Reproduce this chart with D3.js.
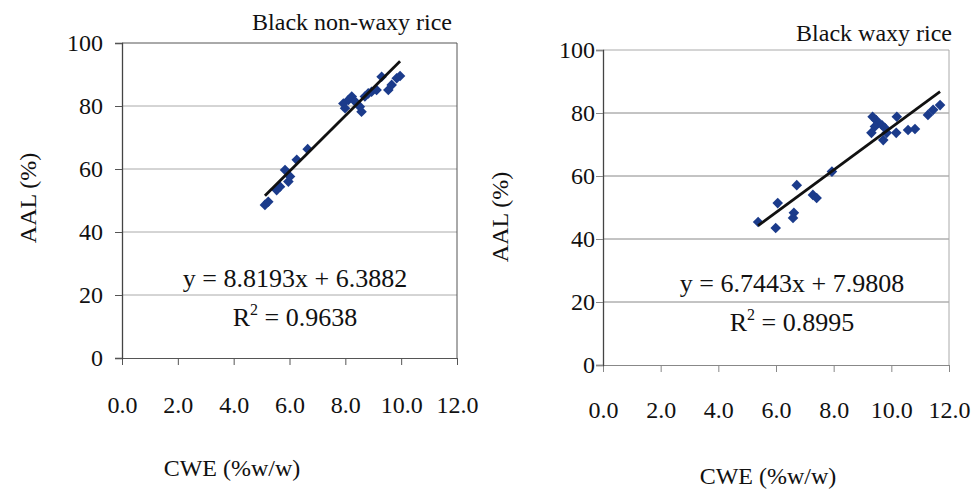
<!DOCTYPE html>
<html>
<head>
<meta charset="utf-8">
<script src="https://cdn.jsdelivr.net/npm/d3@7"></script>
<style>
  body { margin: 0; background: #fff; }
  svg text { font-family: "Liberation Serif", "Times New Roman", serif !important; fill: #111; }
</style>
</head>
<body>
<div id="chart"></div>
<script>
// Black non-waxy rice
const nonWaxyCWE = [5.12, 5.24, 5.54, 5.66, 5.84, 5.96, 6.02, 6.26, 6.65,
    7.93, 7.99, 8.11, 8.23, 8.35, 8.52, 8.58, 8.70, 8.82, 8.94, 9.12, 9.30, 9.54, 9.66, 9.84, 9.96];
const nonWaxyAAL = [48.6, 49.6, 53.3, 54.4, 59.7, 56.0, 57.6, 62.9, 66.3,
    80.8, 79.3, 81.9, 83.0, 81.4, 79.8, 78.2, 83.0, 84.0, 84.5, 85.1, 89.3, 85.1, 86.7, 88.8, 89.5];
const nonWaxyFit = [8.8193, 6.3882];   // slope, intercept
const nonWaxyR2 = "0.9638";

// Black waxy rice
const waxyCWE = [5.38, 5.99, 6.06, 6.62, 6.59, 6.72, 7.28, 7.41, 7.94,
    9.35, 9.47, 9.54, 9.67, 9.78, 9.43, 9.31, 9.84, 9.72, 10.19, 10.17, 10.58, 10.82, 11.27, 11.45, 11.69];
const waxyAAL = [45.4, 43.5, 51.4, 48.3, 46.7, 57.1, 54.0, 53.0, 61.4,
    78.8, 77.8, 76.8, 76.2, 75.2, 75.7, 73.7, 73.7, 71.4, 78.8, 73.7, 74.6, 74.9, 79.4, 81.0, 82.5];
const waxyFit = [6.7443, 7.9808];
const waxyR2 = "0.8995";

const xTicks = [0, 2, 4, 6, 8, 10, 12];
const yTicks = [0, 20, 40, 60, 80, 100];
const yTitle = "AAL (%)";
const xTitle = "CWE (%w/w)";

const serif = "'Liberation Serif', 'Times New Roman', serif";

const svg = d3.select("#chart").append("svg")
    .attr("width", 979)
    .attr("height", 492);

function drawPanel(p) {
    const data = p.xs.map((x, i) => ({ x: x, y: p.ys[i] }));
    const xScale = d3.scaleLinear().domain([0, 12]).range([p.left, p.right]);
    const yScale = d3.scaleLinear().domain([0, 100]).range([p.bottom, p.top]);
    const g = svg.append("g");

    // gridlines
    g.selectAll(".grid")
        .data(yTicks.filter(d => d > 0 && d < 100))
        .enter().append("line")
        .attr("x1", p.left)
        .attr("x2", p.right)
        .attr("y1", d => yScale(d))
        .attr("y2", d => yScale(d))
        .attr("stroke", p.gridColor)
        .attr("stroke-width", 1);

    // plot frame
    g.append("line").attr("x1", p.left).attr("x2", p.right)
        .attr("y1", p.top).attr("y2", p.top).attr("stroke", p.frameColor);
    g.append("line").attr("x1", p.right).attr("x2", p.right)
        .attr("y1", p.top).attr("y2", p.bottom).attr("stroke", p.frameColor);

    const xAxis = g.append("g")
        .attr("transform", `translate(0,${p.bottom})`)
        .call(d3.axisBottom(xScale).tickValues(xTicks).tickSize(7).tickFormat(d3.format(".1f")));
    xAxis.attr("font-family", serif);
    xAxis.select(".domain").attr("stroke", p.axisColor);
    xAxis.selectAll(".tick line").attr("stroke", p.axisColor);
    xAxis.selectAll(".tick text")
        .attr("y", p.xLabelDy)
        .style("font-size", "24px")
        .style("font-family", serif)
        .attr("fill", "#111");

    const yAxis = g.append("g")
        .attr("transform", `translate(${p.left},0)`)
        .call(d3.axisLeft(yScale).tickValues(yTicks).tickSize(7));
    yAxis.attr("font-family", serif);
    yAxis.select(".domain").attr("stroke", "#444").attr("stroke-width", 1.3);
    yAxis.selectAll(".tick line").attr("stroke", p.axisColor);
    yAxis.selectAll(".tick text")
        .attr("x", -p.yLabelGap)
        .style("font-size", "24px")
        .style("font-family", serif)
        .attr("fill", "#111");

    // points
    g.selectAll(".pt")
        .data(data)
        .enter().append("path")
        .attr("class", "pt")
        .attr("d", d3.symbol().type(d3.symbolSquare).size(56))
        .attr("transform", d => `translate(${xScale(d.x)},${yScale(d.y)}) rotate(45)`)
        .attr("fill", "#1b3b8b");

    // trend line
    const ext = d3.extent(p.xs);
    g.append("path")
        .datum(ext)
        .attr("fill", "none")
        .attr("stroke", "#111")
        .attr("stroke-width", 2.8)
        .attr("d", d3.line()
            .x(d => xScale(d))
            .y(d => yScale(p.fit[0] * d + p.fit[1])));

    // equation and R²
    g.append("text")
        .attr("x", p.eqX)
        .attr("y", p.eqY)
        .attr("text-anchor", "middle")
        .style("font-size", "26px")
        .text(`y = ${p.fit[0]}x + ${p.fit[1]}`);
    const r2 = g.append("text")
        .attr("x", p.eqX)
        .attr("y", p.eqY + 39)
        .attr("text-anchor", "middle")
        .style("font-size", "26px");
    r2.append("tspan").text("R");
    r2.append("tspan").style("font-size", "16px").attr("dy", -11).text("2");
    r2.append("tspan").attr("dy", 11).text(` = ${p.r2}`);

    // titles
    g.append("text")
        .attr("x", p.titleX)
        .attr("y", p.titleY)
        .attr("text-anchor", "end")
        .style("font-size", "24px")
        .text(p.title);

    g.append("text")
        .attr("transform", `translate(${p.yTitleX},${p.yTitleY}) rotate(-90)`)
        .attr("text-anchor", "middle")
        .style("font-size", "24px")
        .text(yTitle);

    g.append("text")
        .attr("x", p.xTitleX)
        .attr("y", p.xTitleY)
        .attr("text-anchor", "middle")
        .style("font-size", "24px")
        .text(xTitle);
}

drawPanel({
    xs: nonWaxyCWE, ys: nonWaxyAAL, fit: nonWaxyFit, r2: nonWaxyR2,
    title: "Black non-waxy rice",
    left: 122, right: 457, top: 43, bottom: 358,
    gridColor: "#aaa", frameColor: "#555", axisColor: "#555",
    xLabelDy: 38, yLabelGap: 19,
    eqX: 295, eqY: 287,
    titleX: 452, titleY: 30,
    yTitleX: 36, yTitleY: 198,
    xTitleX: 232, xTitleY: 476
});

drawPanel({
    xs: waxyCWE, ys: waxyAAL, fit: waxyFit, r2: waxyR2,
    title: "Black waxy rice",
    left: 603, right: 949, top: 50, bottom: 365,
    gridColor: "#888", frameColor: "#aaa", axisColor: "#888",
    xLabelDy: 36, yLabelGap: 8,
    eqX: 792, eqY: 292,
    titleX: 952, titleY: 41,
    yTitleX: 508, yTitleY: 217,
    xTitleX: 768, xTitleY: 484
});
</script>
</body>
</html>
